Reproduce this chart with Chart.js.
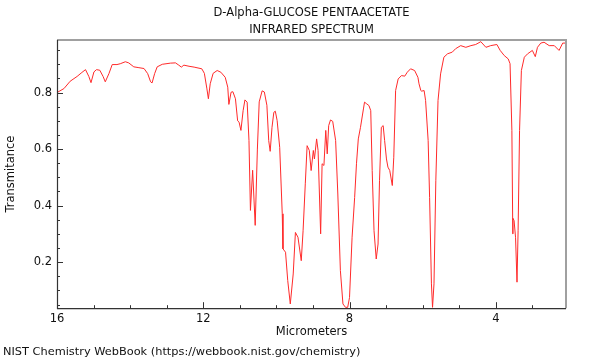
<!DOCTYPE html>
<html><head><meta charset="utf-8">
<script src="https://cdn.jsdelivr.net/npm/chart.js@4/dist/chart.umd.min.js"></script>
<style>html,body{margin:0;padding:0;background:#fff}</style>
</head><body>
<canvas id="c" width="600" height="360" style="display:block;width:600px;height:360px"></canvas>
<script>
const titleLines = ['D-Alpha-GLUCOSE PENTAACETATE', 'INFRARED SPECTRUM'];
const xAxisTitle = 'Micrometers';
const yAxisTitle = 'Transmitance';
const sourceNote = 'NIST Chemistry WebBook (https://webbook.nist.gov/chemistry)';

const wavelengths = [16.00,15.81,15.64,15.45,15.32,15.22,15.13,15.07,14.99,14.92,14.83,14.74,14.68,14.58,14.49,14.36,14.27,14.13,14.04,13.90,13.76,13.62,13.52,13.44,13.40,13.33,13.26,13.12,12.90,12.76,12.67,12.60,12.53,12.39,12.25,12.04,11.97,11.90,11.86,11.81,11.73,11.62,11.52,11.40,11.33,11.30,11.24,11.19,11.12,11.06,11.02,10.97,10.91,10.86,10.80,10.75,10.71,10.65,10.58,10.52,10.47,10.39,10.33,10.26,10.21,10.17,10.12,10.07,10.03,9.98,9.91,9.84,9.82,9.75,9.69,9.62,9.54,9.48,9.41,9.32,9.27,9.21,9.16,9.10,9.05,8.99,8.96,8.90,8.86,8.79,8.75,8.70,8.65,8.61,8.57,8.52,8.46,8.38,8.32,8.25,8.18,8.11,8.05,8.00,7.93,7.86,7.81,7.76,7.70,7.62,7.59,7.53,7.47,7.42,7.38,7.33,7.27,7.22,7.18,7.13,7.08,7.04,6.99,6.95,6.90,6.83,6.79,6.74,6.67,6.58,6.49,6.42,6.33,6.22,6.13,6.10,6.05,6.03,5.96,5.92,5.85,5.81,5.76,5.73,5.69,5.64,5.58,5.51,5.42,5.32,5.19,5.10,4.96,4.82,4.68,4.55,4.41,4.27,4.14,3.97,3.88,3.77,3.66,3.61,3.56,3.535,3.53,3.50,3.46,3.42,3.39,3.35,3.30,3.22,3.13,3.00,2.92,2.86,2.77,2.68,2.54,2.40,2.27,2.17,2.08];
const transmittance = [0.800,0.814,0.840,0.857,0.871,0.881,0.857,0.835,0.873,0.881,0.879,0.857,0.838,0.867,0.899,0.899,0.902,0.909,0.905,0.891,0.888,0.885,0.867,0.838,0.834,0.867,0.891,0.900,0.904,0.905,0.897,0.890,0.897,0.893,0.890,0.884,0.868,0.813,0.778,0.831,0.868,0.878,0.872,0.854,0.819,0.758,0.801,0.803,0.778,0.700,0.695,0.666,0.736,0.774,0.766,0.630,0.383,0.525,0.330,0.600,0.767,0.806,0.802,0.755,0.630,0.592,0.677,0.730,0.734,0.701,0.606,0.371,0.247,0.235,0.135,0.052,0.158,0.305,0.288,0.205,0.311,0.477,0.612,0.595,0.524,0.595,0.565,0.636,0.595,0.300,0.548,0.542,0.666,0.583,0.683,0.703,0.698,0.630,0.441,0.170,0.052,0.040,0.040,0.075,0.288,0.429,0.548,0.636,0.677,0.742,0.766,0.760,0.754,0.736,0.524,0.311,0.211,0.264,0.488,0.677,0.683,0.630,0.565,0.536,0.524,0.471,0.571,0.807,0.848,0.860,0.858,0.872,0.884,0.878,0.854,0.831,0.807,0.805,0.807,0.772,0.630,0.429,0.123,0.040,0.123,0.488,0.772,0.866,0.925,0.937,0.943,0.955,0.966,0.960,0.966,0.970,0.980,0.960,0.966,0.970,0.949,0.931,0.919,0.902,0.666,0.300,0.355,0.347,0.288,0.129,0.311,0.666,0.878,0.925,0.937,0.949,0.927,0.960,0.975,0.978,0.966,0.966,0.949,0.975,0.975];

const xMajorTicks = [16, 12, 8, 4];
const xMinorTicks = [15, 14, 13, 11, 10, 9, 7, 6, 5, 3];
const yMajorTicks = [0.2, 0.4, 0.6, 0.8];
const yMinorTicks = [0.05, 0.1, 0.15, 0.25, 0.3, 0.35, 0.45, 0.5, 0.55, 0.65, 0.7, 0.75, 0.85, 0.9, 0.95];

const FONT = 'DejaVu Sans';
const FS = 11.5;

const framePlugin = {
  id: 'frame',
  afterDraw(chart) {
    const {ctx, chartArea: a, scales: {x, y}} = chart;
    ctx.save();
    ctx.strokeStyle = '#333';
    ctx.lineWidth = 1;
    ctx.beginPath();
    xMajorTicks.forEach(v => { const p = Math.round(x.getPixelForValue(v)) + 0.5; ctx.moveTo(p, a.bottom); ctx.lineTo(p, a.bottom - 6); });
    xMinorTicks.forEach(v => { const p = Math.round(x.getPixelForValue(v)) + 0.5; ctx.moveTo(p, a.bottom); ctx.lineTo(p, a.bottom - 3); });
    yMajorTicks.forEach(v => { const p = Math.round(y.getPixelForValue(v)) + 0.5; ctx.moveTo(a.left, p); ctx.lineTo(a.left + 6, p); });
    yMinorTicks.forEach(v => { const p = Math.round(y.getPixelForValue(v)) + 0.5; ctx.moveTo(a.left, p); ctx.lineTo(a.left + 3, p); });
    ctx.stroke();
    ctx.strokeStyle = '#a0a0a0';
    ctx.lineWidth = 2;
    ctx.beginPath();
    ctx.moveTo(a.left, a.top); ctx.lineTo(a.right, a.top); ctx.lineTo(a.right, a.bottom);
    ctx.stroke();
    ctx.strokeStyle = '#333';
    ctx.lineWidth = 1.2;
    ctx.beginPath();
    ctx.moveTo(a.left + 0.5, a.top); ctx.lineTo(a.left + 0.5, a.bottom + 0.5); ctx.lineTo(a.right, a.bottom + 0.5);
    ctx.stroke();
    ctx.restore();
  }
};

new Chart(document.getElementById('c'), {
  type: 'line',
  data: {
    datasets: [{
      data: wavelengths.map((w, i) => ({x: w, y: transmittance[i]})),
      borderColor: '#ff2a2a',
      borderWidth: 1,
      pointRadius: 0,
      tension: 0,
      fill: false
    }]
  },
  options: {
    responsive: false,
    animation: false,
    events: [],
    layout: {padding: {left: 3, right: 34, top: 0, bottom: 0}},
    plugins: {
      legend: {display: false},
      tooltip: {enabled: false},
      title: {
        display: true, text: titleLines, fullSize: false, color: '#111',
        font: {family: FONT, size: FS, weight: 'normal', lineHeight: 1.46},
        padding: {top: 5, bottom: 1.4}
      },
      subtitle: {
        display: true, text: sourceNote, position: 'bottom', align: 'start', color: '#111',
        font: {family: FONT, size: 11.35, weight: 'normal', lineHeight: 1.2},
        padding: {top: 0, bottom: 1}
      }
    },
    scales: {
      x: {
        type: 'linear', reverse: true, min: 2.08, max: 16,
        afterBuildTicks: s => { s.ticks = xMajorTicks.map(v => ({value: v})); },
        afterFit: s => { s.height = 37.2; },
        grid: {display: false, drawTicks: false},
        border: {display: false},
        ticks: {color: '#111', padding: 4, maxRotation: 0, font: {family: FONT, size: FS}, callback: v => String(v)},
        title: {display: true, text: xAxisTitle, color: '#111', font: {family: FONT, size: FS}, padding: {top: 0, bottom: 6}}
      },
      y: {
        type: 'linear', min: 0.037, max: 0.986,
        afterBuildTicks: s => { s.ticks = yMajorTicks.map(v => ({value: v})); },
        afterFit: s => { s.width = 54; },
        grid: {display: false, drawTicks: false},
        border: {display: false},
        ticks: {color: '#111', padding: 5, font: {family: FONT, size: FS}, callback: v => v.toFixed(1)},
        title: {display: true, text: yAxisTitle, color: '#111', font: {family: FONT, size: FS}, padding: {top: 1, bottom: 0}}
      }
    }
  },
  plugins: [framePlugin]
});
</script>
</body></html>
